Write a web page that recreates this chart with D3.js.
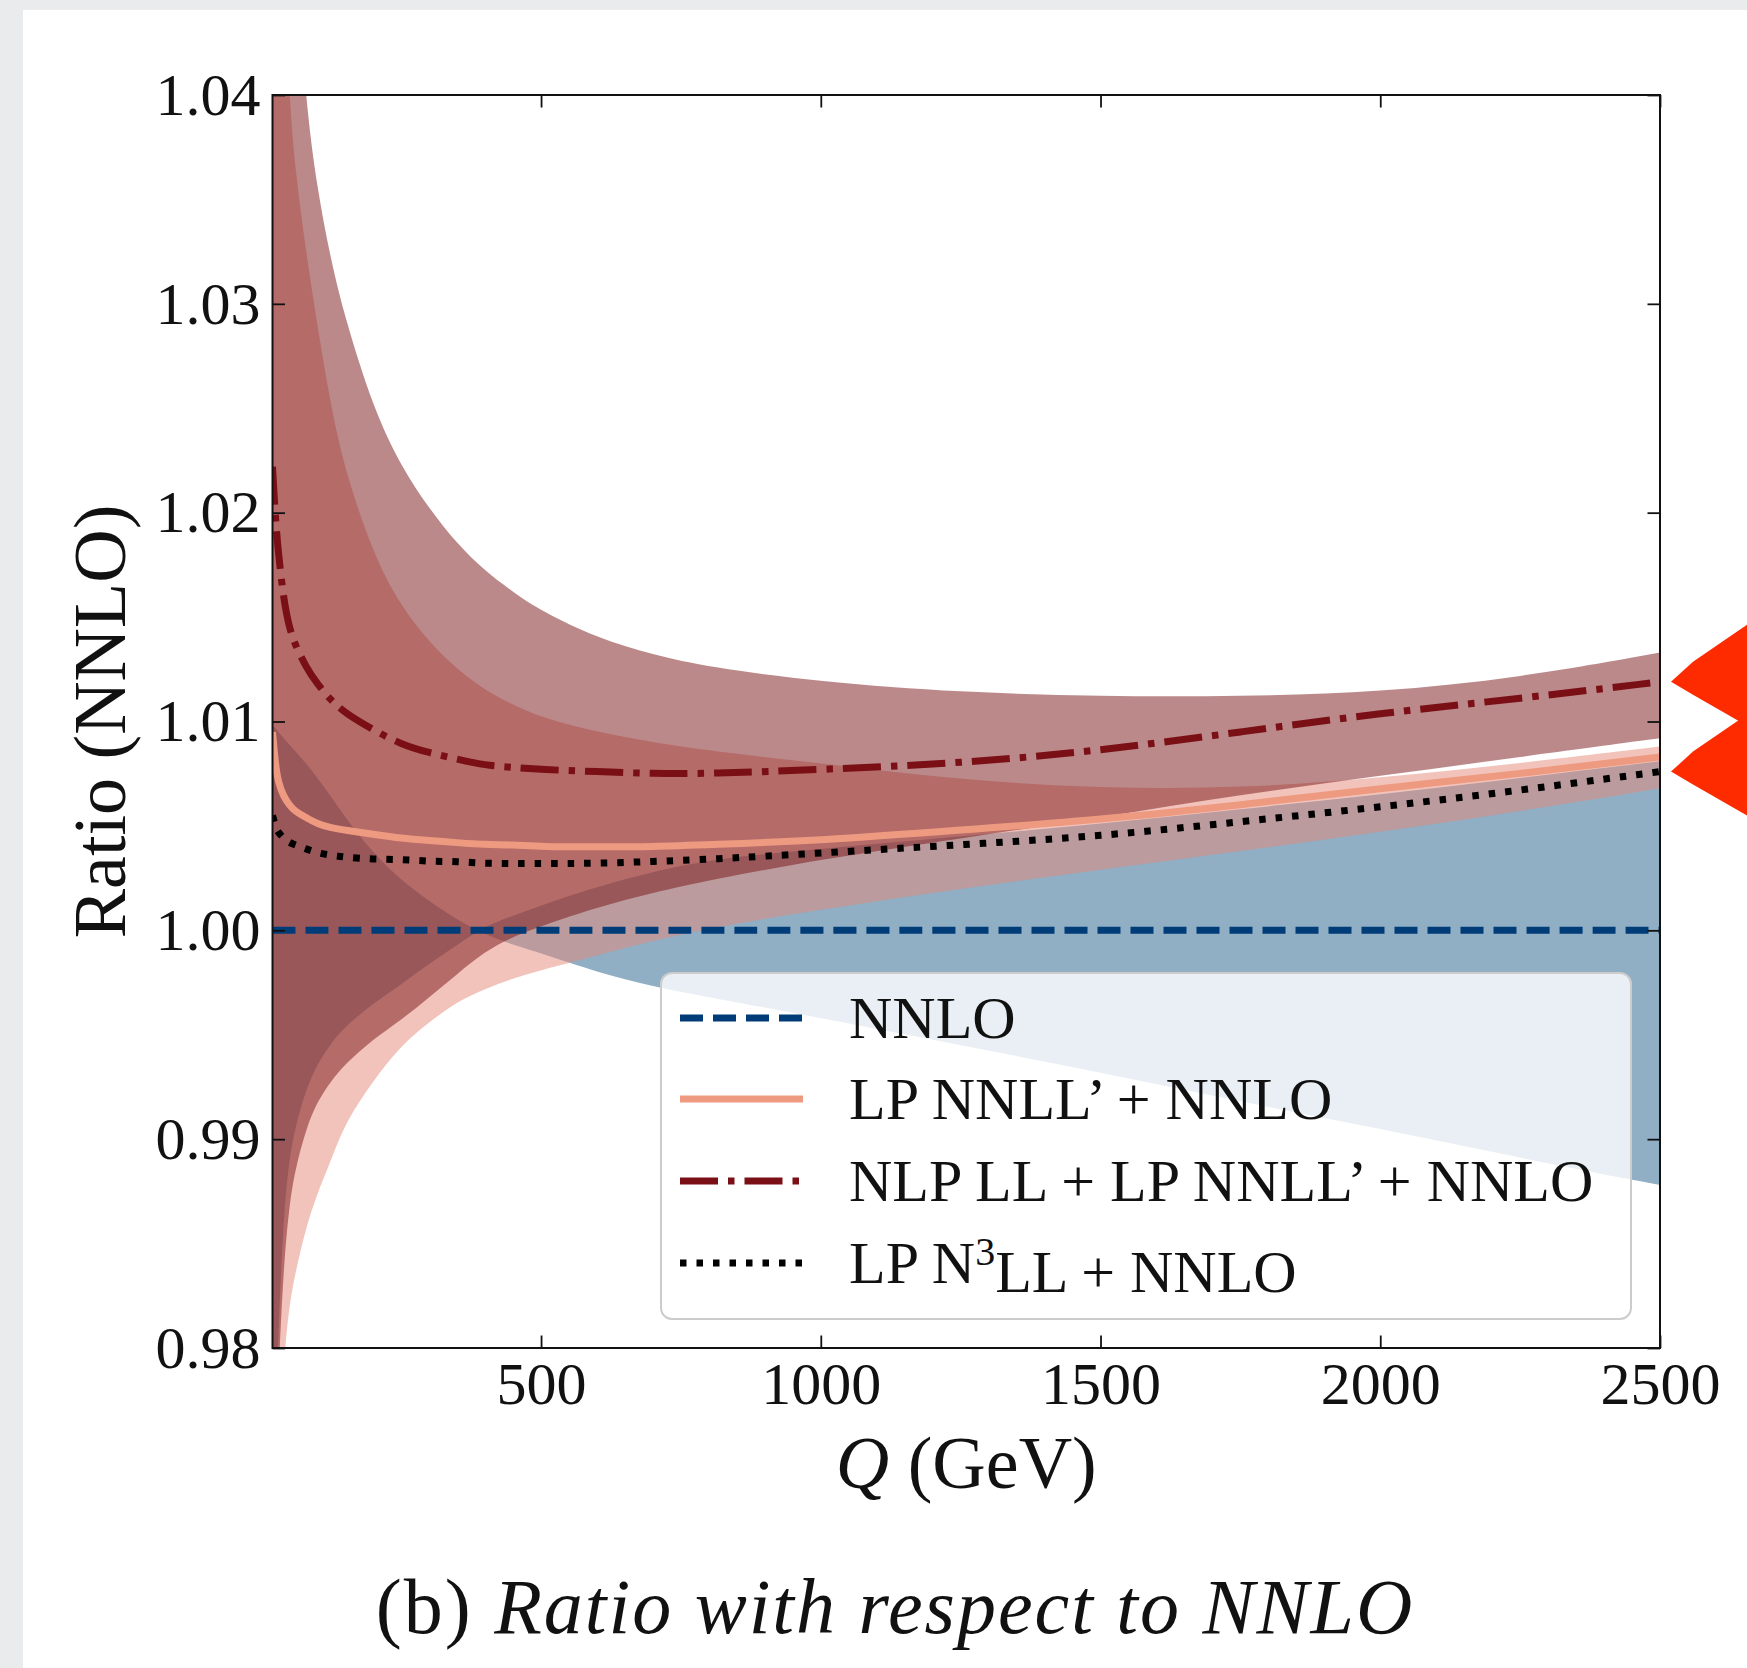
<!DOCTYPE html>
<html>
<head>
<meta charset="utf-8">
<script src="https://cdn.jsdelivr.net/npm/d3@7"></script>
<style>
  body { margin: 0; background: #e9ebed; }
  text { font-family: "Liberation Serif", "DejaVu Serif", serif; fill: #111; }
</style>
</head>
<body>
<script>
// Q grid (GeV) shared by all the curves
const qGrid = [20, 25, 30, 40, 50, 60, 80, 100, 125, 150, 200, 250, 300, 350, 400, 450, 500, 600, 700, 800, 1000, 1250, 1500, 1750, 2000, 2250, 2500];

// NNLO scale band (the two edges swap near Q ~ 380)
const nnloEdge1 = [1.0098, 1.0097, 1.0095, 1.0092, 1.0089, 1.0086, 1.0080, 1.0073, 1.0064, 1.0054, 1.0037, 1.0024, 1.0014, 1.0005, 0.9998, 0.9993, 0.9989, 0.9980, 0.9973, 0.9968, 0.9958, 0.9945, 0.9932, 0.9918, 0.9905, 0.9891, 0.9878];
const nnloEdge2 = [0.9700, 0.9760, 0.9805, 0.9865, 0.9890, 0.9905, 0.9924, 0.9936, 0.9946, 0.9954, 0.9965, 0.9974, 0.9984, 0.9993, 1.0002, 1.0007, 1.0012, 1.0021, 1.0028, 1.0034, 1.0039, 1.0045, 1.0051, 1.0058, 1.0065, 1.0073, 1.0081];

// LP NNLL' + NNLO band
const lpLow  = [0.9600, 0.9680, 0.9730, 0.9795, 0.9820, 0.9835, 0.9858, 0.9874, 0.9890, 0.9908, 0.9928, 0.9945, 0.9956, 0.9966, 0.9972, 0.9977, 0.9981, 0.9988, 0.9995, 1.0001, 1.0010, 1.0020, 1.0029, 1.0038, 1.0047, 1.0057, 1.0068];
const lpHigh = [1.0700, 1.0620, 1.0560, 1.0460, 1.0400, 1.0365, 1.0325, 1.0290, 1.0250, 1.0220, 1.0180, 1.0155, 1.0138, 1.0125, 1.0115, 1.0108, 1.0102, 1.0095, 1.0090, 1.0086, 1.0080, 1.0072, 1.0068, 1.0068, 1.0073, 1.0080, 1.0088];

// NLP LL + LP NNLL' + NNLO band
const nlpLow  = [0.9650, 0.9740, 0.9785, 0.9840, 0.9868, 0.9885, 0.9905, 0.9918, 0.9928, 0.9936, 0.9948, 0.9957, 0.9968, 0.9979, 0.9990, 0.9997, 1.0002, 1.0011, 1.0018, 1.0024, 1.0034, 1.0044, 1.0054, 1.0065, 1.0074, 1.0083, 1.0092];
const nlpHigh = [1.0900, 1.0800, 1.0720, 1.0600, 1.0520, 1.0470, 1.0395, 1.0355, 1.0320, 1.0293, 1.0250, 1.0222, 1.0202, 1.0185, 1.0172, 1.0162, 1.0153, 1.0140, 1.0132, 1.0126, 1.0119, 1.0114, 1.0112, 1.0112, 1.0114, 1.0121, 1.0133];

// central curves
const nnloCentral = [1, 1, 1, 1, 1, 1, 1, 1, 1, 1, 1, 1, 1, 1, 1, 1, 1, 1, 1, 1, 1, 1, 1, 1, 1, 1, 1];
const lpCentral   = [1.0095, 1.0080, 1.0071, 1.0064, 1.0060, 1.0057, 1.0054, 1.0051, 1.0049, 1.0048, 1.0046, 1.0044, 1.0043, 1.0042, 1.0041, 1.0041, 1.0040, 1.0040, 1.0040, 1.0041, 1.0043, 1.0048, 1.0053, 1.0060, 1.0068, 1.0075, 1.0083];
const nlpCentral  = [1.0222, 1.0198, 1.0182, 1.0158, 1.0145, 1.0137, 1.0126, 1.0118, 1.0110, 1.0104, 1.0096, 1.0089, 1.0085, 1.0082, 1.0079, 1.0078, 1.0077, 1.0076, 1.0075, 1.0075, 1.0077, 1.0080, 1.0086, 1.0095, 1.0104, 1.0111, 1.0119];
const n3llCentral = [1.0055, 1.0050, 1.0047, 1.0044, 1.0042, 1.0041, 1.0039, 1.0037, 1.0036, 1.0035, 1.0034, 1.0034, 1.0033, 1.0033, 1.0032, 1.0032, 1.0032, 1.0032, 1.0033, 1.0034, 1.0037, 1.0041, 1.0045, 1.0052, 1.0059, 1.0067, 1.0076];

const xTicks = [500, 1000, 1500, 2000, 2500];
const yTicks = [0.98, 0.99, 1.00, 1.01, 1.02, 1.03, 1.04];
const legendLabels = ["NNLO", "LP NNLL\u2019 + NNLO", "NLP LL + LP NNLL\u2019 + NNLO", "LP N3LL + NNLO"];

// Set the dimensions and margins of the graph
const W = 1747, H = 1668;
const margin = {top: 95, left: 272.5, right: 87, bottom: 320};
const width = W - margin.left - margin.right,
      height = H - margin.top - margin.bottom;

const svg = d3.select("body")
  .append("svg")
    .attr("width", W)
    .attr("height", H)
    .style("display", "block");

// white panel on the grey page
svg.append("rect")
  .attr("x", 23).attr("y", 10)
  .attr("width", W - 23).attr("height", H - 10)
  .attr("fill", "#ffffff");

const g = svg.append("g")
  .attr("transform", "translate(" + margin.left + "," + margin.top + ")");

const x = d3.scaleLinear().domain([20, 2500]).range([0, width]);
const y = d3.scaleLinear().domain([0.98, 1.04]).range([height, 0]);

g.append("clipPath").attr("id", "plotClip")
  .append("rect").attr("width", width).attr("height", height);

const plot = g.append("g").attr("clip-path", "url(#plotClip)");

const band = (lo, hi) => qGrid.map((q, i) => ({q: q, lo: lo[i], hi: hi[i]}));
const area = d3.area()
  .x(d => x(d.q))
  .y0(d => y(d.lo))
  .y1(d => y(d.hi))
  .curve(d3.curveBasis);

// Bands: NNLO, then LP, then NLP on top
plot.append("path").datum(band(nnloEdge1, nnloEdge2))
  .attr("d", area).attr("fill", "#215f8b").attr("fill-opacity", 0.5);
plot.append("path").datum(band(lpLow, lpHigh))
  .attr("d", area).attr("fill", "#e58777").attr("fill-opacity", 0.5);
plot.append("path").datum(band(nlpLow, nlpHigh))
  .attr("d", area).attr("fill", "#771315").attr("fill-opacity", 0.5);

const line = d3.line()
  .x(d => x(d.q))
  .y(d => y(d.v))
  .curve(d3.curveBasis);
const pts = vals => qGrid.map((q, i) => ({q: q, v: vals[i]}));

const lw = 7;
const series = [
  {vals: nnloCentral, color: "#003c78", dash: [23, 10]},
  {vals: lpCentral,   color: "#ee9a80", dash: null},
  {vals: nlpCentral,  color: "#7a1016", dash: [38, 10, 6.5, 10]},
  {vals: n3llCentral, color: "#000000", dash: [6.5, 10]}
];

series.forEach(s => {
  plot.append("path").datum(pts(s.vals))
    .attr("d", line)
    .attr("fill", "none")
    .attr("stroke", s.color)
    .attr("stroke-width", lw)
    .attr("stroke-dasharray", s.dash ? s.dash.join(",") : null);
});

// Axes with inward ticks on all four sides
const tick = 12.5;
g.append("g")
  .attr("transform", "translate(0," + height + ")")
  .call(d3.axisBottom(x).tickValues(xTicks).tickFormat(d3.format("d")).tickSizeInner(-tick).tickSizeOuter(0).tickPadding(13));
g.append("g")
  .call(d3.axisLeft(y).tickValues(yTicks).tickFormat(d3.format(".2f")).tickSizeInner(-tick).tickSizeOuter(0).tickPadding(12));
g.append("g")
  .call(d3.axisTop(x).tickValues(xTicks).tickSizeInner(-tick).tickSizeOuter(0).tickFormat(""));
g.append("g")
  .attr("transform", "translate(" + width + ",0)")
  .call(d3.axisRight(y).tickValues(yTicks).tickSizeInner(-tick).tickSizeOuter(0).tickFormat(""));

g.selectAll(".domain").remove();
g.selectAll(".tick line").attr("stroke", "#111").attr("stroke-width", 1.8);
g.selectAll(".tick text")
  .style("font-family", "'Liberation Serif', serif")
  .style("font-size", "60px")
  .attr("fill", "#111");

// frame
g.append("rect")
  .attr("width", width).attr("height", height)
  .attr("fill", "none").attr("stroke", "#111").attr("stroke-width", 2);

// Legend
const leg = svg.append("g");
leg.append("rect")
  .attr("x", 661).attr("y", 973)
  .attr("width", 970).attr("height", 346)
  .attr("rx", 11)
  .attr("fill", "#ffffff").attr("fill-opacity", 0.8)
  .attr("stroke", "#cccccc").attr("stroke-width", 2);

const rowY = [1018, 1099, 1181, 1263];
series.forEach((s, i) => {
  leg.append("line")
    .attr("x1", 680).attr("x2", 803)
    .attr("y1", rowY[i]).attr("y2", rowY[i])
    .attr("stroke", s.color)
    .attr("stroke-width", lw)
    .attr("stroke-dasharray", s.dash ? s.dash.join(",") : null);
  const t = leg.append("text")
    .attr("x", 849).attr("y", rowY[i])
    .attr("dy", "0.34em")
    .style("font-size", "60px");
  if (i === 3) {
    t.append("tspan").text("LP N");
    t.append("tspan").attr("dy", "-0.45em").style("font-size", "40px").text("3");
    t.append("tspan").attr("dy", "0.45em").text("LL + NNLO");
  } else {
    t.text(legendLabels[i]);
  }
});

// Axis labels
const xl = svg.append("text")
  .attr("x", margin.left + width / 2).attr("y", 1488)
  .attr("text-anchor", "middle")
  .style("font-size", "74px");
xl.append("tspan").style("font-style", "italic").text("Q");
xl.append("tspan").text(" (GeV)");

svg.append("text")
  .attr("transform", "translate(125," + (margin.top + height / 2) + ") rotate(-90)")
  .attr("text-anchor", "middle")
  .style("font-size", "74px")
  .text("Ratio (NNLO)");

// Caption
const cap = svg.append("text")
  .attr("x", 895).attr("y", 1633)
  .attr("text-anchor", "middle")
  .style("font-size", "78px")
  .style("letter-spacing", "2px");
cap.append("tspan").text("(b) ");
cap.append("tspan").style("font-style", "italic").text("Ratio with respect to NNLO");

// Red arrow heads pointing at the curve ends on the right
const tipX = margin.left + x(2500) + 11;
[nlpCentral[nlpCentral.length - 1], n3llCentral[n3llCentral.length - 1]].forEach(v => {
  const ty = margin.top + y(v);
  svg.append("path")
    .attr("d", "M" + tipX + "," + ty +
               " L" + (tipX + 22) + "," + (ty - 20) +
               " L" + W + "," + (ty - 57) +
               " L" + W + "," + (ty + 44) +
               " L" + (tipX + 22) + "," + (ty + 13) + "Z")
    .attr("fill", "#fe2a00");
});
</script>
</body>
</html>
